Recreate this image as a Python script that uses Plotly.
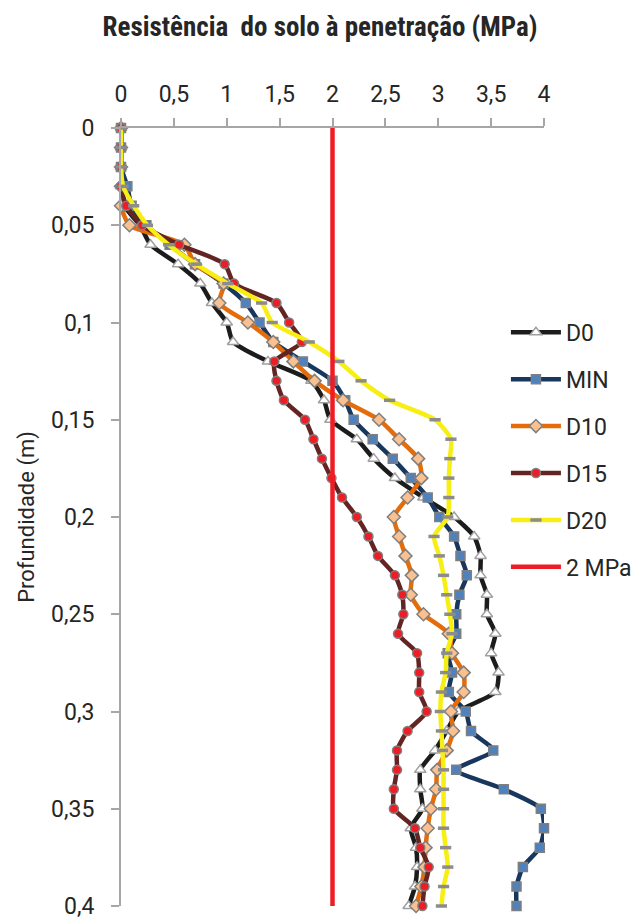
import plotly.graph_objects as go

# Depth (m) of each reading, every 1 cm from the surface down to 40 cm
depth = [round(0.01 * i, 2) for i in range(41)]

# Penetration resistance (MPa) for each treatment
d0 = [0, 0, 0, 0, 0.03, 0.18, 0.28, 0.54, 0.75, 0.86,
      1.00, 1.06, 1.39, 1.80, 1.92, 1.98, 2.23, 2.39, 2.59, 2.86,
      3.15, 3.34, 3.40, 3.40, 3.46, 3.46, 3.54, 3.50, 3.57, 3.54,
      3.19, 3.08, 2.97, 2.83, 2.83, 2.85, 2.74, 2.79, 2.80, 2.78, 2.72]
mn = [0, 0, 0, 0.06, 0.10, 0.24, 0.46, 0.70, 0.97, 1.18,
      1.31, 1.44, 1.72, 2.00, 2.12, 2.20, 2.38, 2.57, 2.74, 2.90,
      3.01, 3.15, 3.21, 3.27, 3.20, 3.17, 3.17, 3.09, 3.13, 3.10,
      3.26, 3.31, 3.52, 3.17, 3.62, 3.97, 4.00, 3.96, 3.80, 3.74, 3.74]
d10 = [0, 0, 0, 0, 0, 0.08, 0.60, 0.70, 0.97, 0.93,
       1.20, 1.44, 1.63, 1.83, 2.10, 2.44, 2.63, 2.81, 2.84, 2.71,
       2.58, 2.63, 2.69, 2.75, 2.74, 2.86, 3.10, 3.13, 3.24, 3.24,
       3.12, 3.14, 3.08, 2.99, 2.98, 2.93, 2.90, 2.88, 2.87, 2.84, 2.79]
d15 = [0, 0, 0, 0, 0.05, 0.20, 0.55, 0.98, 1.07, 1.47,
       1.59, 1.71, 1.45, 1.47, 1.54, 1.74, 1.82, 1.90, 1.99, 2.09,
       2.23, 2.34, 2.43, 2.59, 2.66, 2.67, 2.62, 2.80, 2.82, 2.82,
       2.89, 2.71, 2.61, 2.61, 2.58, 2.58, 2.78, 2.83, 2.91, 2.87, 2.85]
d20 = [0, 0, 0, 0.02, 0.12, 0.25, 0.45, 0.71, 1.01, 1.33,
       1.43, 1.78, 2.06, 2.27, 2.54, 2.97, 3.12, 3.11, 3.10, 3.10,
       3.09, 2.96, 3.01, 3.05, 3.08, 3.11, 3.13, 3.08, 3.07, 3.03,
       3.02, 3.03, 3.04, 3.05, 3.05, 3.05, 3.05, 3.07, 3.09, 3.05, 3.03]

# Critical resistance reference line
limit_x = [2, 2]
limit_y = [0, 0.4]

x_ticks = [0, 0.5, 1, 1.5, 2, 2.5, 3, 3.5, 4]
y_ticks = [0, 0.05, 0.1, 0.15, 0.2, 0.25, 0.3, 0.35, 0.4]

NARROW = "Roboto Condensed, Liberation Sans Narrow, sans-serif"
PLAIN = "Roboto, sans-serif"
TEXT = "#262626"
AXIS = "#a6a6a6"
OUTLINE = "#7f7f7f"

series = [
    ("D0", d0, "#1c1c1c", dict(symbol="triangle-up", size=10, color="white",
                                line=dict(color="#a0a0a0", width=1.5))),
    ("MIN", mn, "#17375e", dict(symbol="square", size=9, color="#4f81bd",
                                 line=dict(color=OUTLINE, width=1.5))),
    ("D10", d10, "#e46c0a", dict(symbol="diamond", size=10, color="#fac090",
                                  line=dict(color=OUTLINE, width=1.5))),
    ("D15", d15, "#632523", dict(symbol="circle", size=9, color="#ee1c25",
                                  line=dict(color=OUTLINE, width=1.5))),
    ("D20", d20, "#f7ee14", dict(symbol="line-ew", size=8, color=OUTLINE,
                                  line=dict(color="#8c8c8c", width=3.5))),
]

fig = go.Figure()
for name, vals, col, mk in series:
    fig.add_trace(go.Scatter(
        x=vals, y=depth, name=name, legendgroup=name,
        mode="lines+markers",
        line=dict(color=col, width=4.5, shape="spline", smoothing=0.6),
        marker=mk, cliponaxis=False,
    ))

fig.add_trace(go.Scatter(
    x=limit_x, y=limit_y, name="2 MPa", legendgroup="2 MPa",
    mode="lines", line=dict(color="#ee1c25", width=4.5),
    cliponaxis=False,
))

fig.update_layout(
    width=640, height=920,
    margin=dict(l=121, r=96, t=128, b=14, autoexpand=False),
    paper_bgcolor="white", plot_bgcolor="white",
    separators=", ",
    title=dict(
        text="<b>Resistência  do solo à penetração (MPa)</b>",
        x=0.5, xref="container", xanchor="center",
        y=1 - 27 / 920, yref="container", yanchor="middle",
        font=dict(family=NARROW, size=27, color=TEXT),
    ),
    legend=dict(
        x=0.91, xanchor="left", y=0.765, yanchor="top",
        font=dict(family=PLAIN, size=23, color=TEXT),
        tracegroupgap=14, itemwidth=50,
        bgcolor="rgba(0,0,0,0)",
    ),
    showlegend=True,
)

fig.update_xaxes(
    side="top", range=[0, 4], tickvals=x_ticks, automargin=False,
    showgrid=False, zeroline=False,
    showline=True, linecolor=AXIS, linewidth=2,
    ticks="outside", ticklen=8, tickwidth=2, tickcolor=AXIS,
    ticklabelstandoff=7, ticklabeloverflow="allow",
    tickfont=dict(family=PLAIN, size=23, color=TEXT),
)
fig.update_yaxes(
    range=[0.4, 0], tickvals=y_ticks, automargin=False,
    showgrid=False, zeroline=False,
    showline=True, linecolor=AXIS, linewidth=2,
    ticks="outside", ticklen=8, tickwidth=2, tickcolor=AXIS,
    ticklabelstandoff=12, ticklabeloverflow="allow",
    tickfont=dict(family=PLAIN, size=23, color=TEXT),
    title=dict(text="Profundidade (m)", standoff=10,
               font=dict(family=PLAIN, size=22, color=TEXT)),
)

fig.write_html("out.html")
